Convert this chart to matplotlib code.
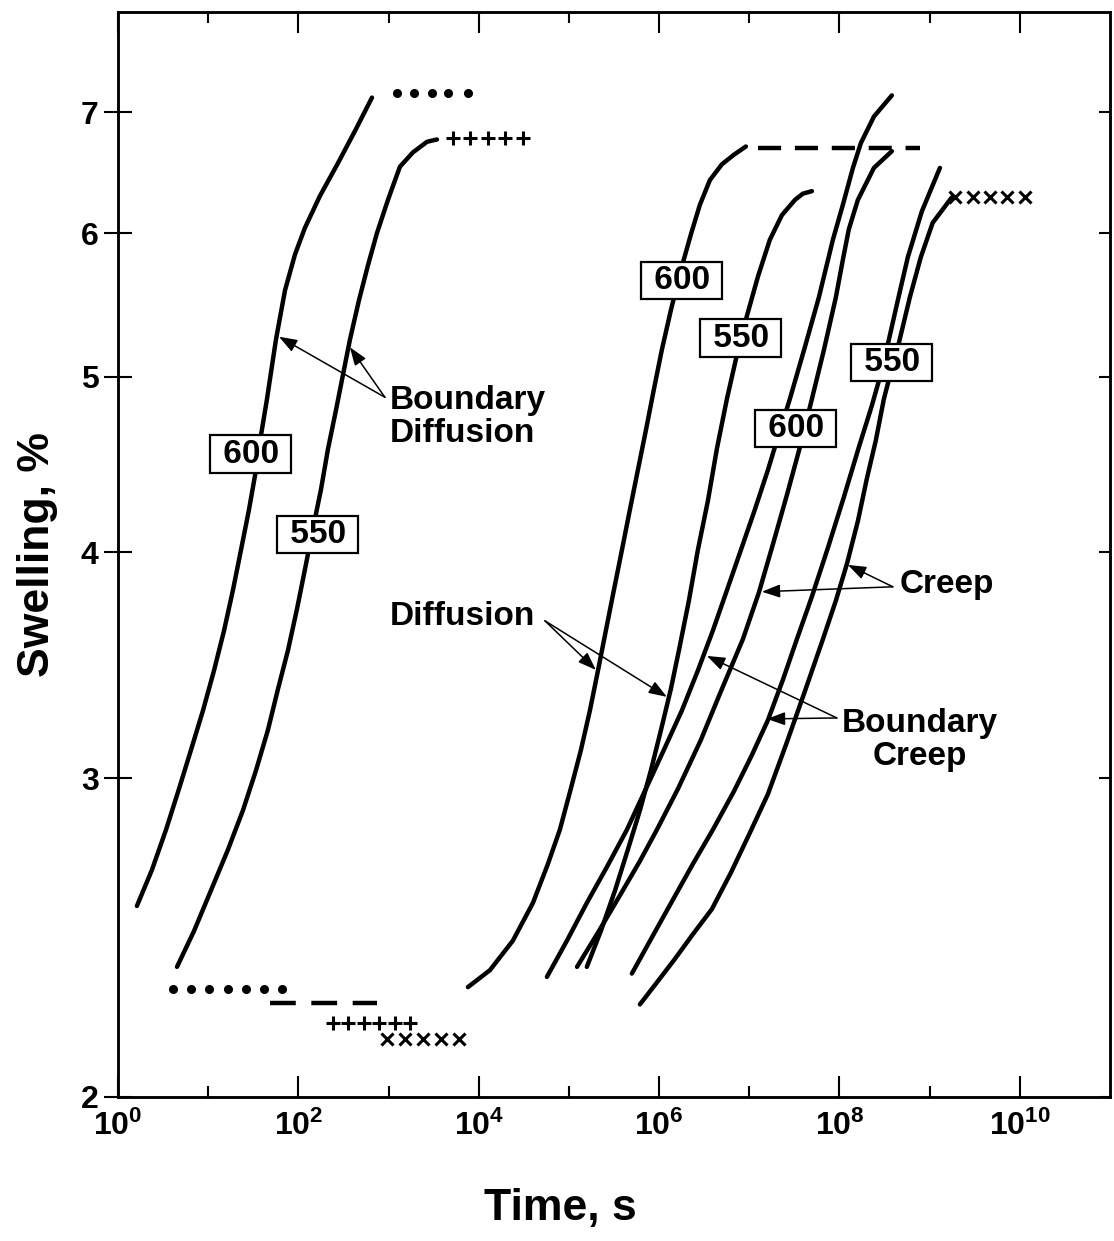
import numpy as np
import matplotlib.pyplot as plt
from matplotlib.ticker import FixedLocator, NullLocator, NullFormatter

plt.rcParams['font.family'] = ['Liberation Sans', 'DejaVu Sans']
plt.rcParams['font.weight'] = 'bold'
plt.rcParams['mathtext.fontset'] = 'custom'
plt.rcParams['mathtext.bf'] = 'Liberation Sans:bold'
plt.rcParams['mathtext.rm'] = 'Liberation Sans:bold'
plt.rcParams['mathtext.default'] = 'bf'

# ---- curves (time in s, swelling in %) ----
# boundary diffusion, 600 and 550
bd600_t = [1.62, 2.38, 3.41, 4.75, 6.45, 8.76, 11.6, 15.0, 18.8, 23.1, 28.3, 33.9,
           38.5, 44.9, 56.4, 71.1, 91.7, 118, 173, 275, 435, 655]
bd600_s = [2.55, 2.67, 2.81, 2.96, 3.11, 3.27, 3.44, 3.62, 3.81, 4.01, 4.22, 4.44,
           4.64, 4.86, 5.24, 5.58, 5.84, 6.04, 6.29, 6.56, 6.85, 7.13]
bd550_t = [4.51, 6.96, 10.7, 16.6, 24.3, 33.9, 46.0, 59.4, 76.7, 96.5, 118, 145,
           178, 213, 261, 312, 373, 470, 591, 743, 985, 1337, 1865, 2667, 3440]
bd550_s = [2.36, 2.47, 2.60, 2.74, 2.88, 3.03, 3.19, 3.36, 3.53, 3.72, 3.91, 4.12,
           4.33, 4.56, 4.79, 5.01, 5.24, 5.51, 5.76, 6.00, 6.26, 6.53, 6.65, 6.74, 6.76]
# diffusion, 600 and 550
dif600_t = [7.59e3, 1.33e4, 2.39e4, 3.99e4, 5.85e4, 7.94e4, 1.05e5, 1.36e5, 1.71e5,
            2.10e5, 2.57e5, 3.15e5, 3.87e5, 4.74e5, 5.82e5, 7.14e5, 8.76e5, 1.07e6,
            1.35e6, 1.75e6, 2.25e6, 2.83e6, 3.66e6, 4.97e6, 6.75e6, 9.17e6]
dif600_s = [2.30, 2.35, 2.44, 2.56, 2.69, 2.81, 2.96, 3.11, 3.27, 3.44, 3.62, 3.81,
            4.01, 4.22, 4.44, 4.67, 4.92, 5.17, 5.44, 5.73, 5.99, 6.22, 6.42, 6.55,
            6.63, 6.70]
dif550_t = [1.58e5, 2.26e5, 3.24e5, 4.51e5, 6.13e5, 8.11e5, 1.05e6, 1.35e6, 1.66e6,
            2.14e6, 2.69e6, 3.48e6, 4.37e6, 5.65e6, 7.10e6, 9.40e6, 1.25e7, 1.69e7,
            2.30e7, 3.21e7, 3.93e7, 4.95e7]
dif550_s = [2.36, 2.47, 2.60, 2.74, 2.88, 3.03, 3.19, 3.36, 3.53, 3.76, 4.01, 4.27,
            4.56, 4.86, 5.11, 5.40, 5.68, 5.95, 6.14, 6.26, 6.31, 6.33]
# boundary creep and creep, 600
bcr600_t = [5.70e4, 9.51e4, 1.58e5, 2.64e5, 4.40e5, 7.14e5, 1.13e6, 1.79e6, 2.69e6,
            3.95e6, 5.65e6, 8.07e6, 1.15e7, 1.61e7, 1.92e7, 2.82e7, 4.13e7, 5.91e7,
            8.45e7, 1.09e8, 1.41e8, 1.73e8, 2.41e8, 3.81e8]
bcr600_s = [2.33, 2.44, 2.56, 2.68, 2.81, 2.96, 3.11, 3.27, 3.44, 3.62, 3.81, 4.01,
            4.22, 4.44, 4.57, 4.86, 5.19, 5.53, 5.95, 6.22, 6.52, 6.73, 6.96, 7.15]
cr600_t = [1.23e5, 2.15e5, 3.77e5, 6.13e5, 9.46e5, 1.62e6, 2.91e6, 4.72e6, 8.49e6,
           1.28e7, 1.83e7, 2.61e7, 3.64e7, 4.95e7, 6.71e7, 9.12e7, 1.09e8, 1.27e8,
           1.60e8, 2.41e8, 3.81e8]
cr600_s = [2.36, 2.47, 2.59, 2.70, 2.81, 2.96, 3.15, 3.34, 3.58, 3.80, 4.04, 4.30,
           4.57, 4.86, 5.17, 5.53, 5.80, 6.03, 6.26, 6.52, 6.66]
# boundary creep and creep, 550
bcr550_t = [4.99e5, 8.32e5, 1.42e6, 2.37e6, 3.95e6, 6.75e6, 1.07e7, 1.61e7, 2.36e7,
            3.37e7, 4.95e7, 7.43e7, 1.12e8, 1.64e8, 2.29e8, 2.95e8, 3.53e8, 4.44e8,
            5.73e8, 8.20e8, 1.30e9]
bcr550_s = [2.34, 2.45, 2.57, 2.69, 2.81, 2.95, 3.09, 3.23, 3.40, 3.58, 3.78, 4.02,
            4.29, 4.57, 4.82, 5.04, 5.24, 5.51, 5.82, 6.17, 6.52]
cr550_t = [6.13e5, 9.22e5, 1.46e6, 2.37e6, 3.85e6, 6.25e6, 1.02e7, 1.61e7, 2.55e7,
           4.13e7, 6.55e7, 9.12e7, 1.21e8, 1.60e8, 2.01e8, 2.53e8, 3.11e8, 3.53e8,
           4.44e8, 6.03e8, 7.98e8, 1.08e9, 1.76e9]
cr550_s = [2.25, 2.31, 2.38, 2.46, 2.54, 2.66, 2.80, 2.94, 3.13, 3.35, 3.58, 3.76,
           3.94, 4.16, 4.39, 4.61, 4.86, 4.98, 5.19, 5.53, 5.82, 6.08, 6.28]

# ---- symbol rows ----
top_dot_t = [1240, 1910, 3030, 4560, 7590]
top_dot_s = 7.17
top_plus_t = [5180, 7980, 12600, 19500, 30900]
top_plus_s = 6.77
top_dash_t = [1.25e7, 7.8e8]
top_dash_s = 6.69
top_x_t = [1.90e9, 3.01e9, 4.65e9, 7.17e9, 1.14e10]
top_x_s = 6.28

bot_dot_t = [4.1, 6.5, 10.3, 16.4, 26.1, 41.5, 66]
bot_dot_s = 2.295
bot_dash_t = [48.4, 743]
bot_dash_s = 2.254
bot_plus_t = [242, 359, 534, 793, 1178, 1749]
bot_plus_s = 2.197
bot_x_t = [960, 1520, 2400, 3810, 6030]
bot_x_s = 2.153

x_major_exp = [0, 2, 4, 6, 8, 10]
x_minor_exp = [1, 3, 5, 7, 9]
y_ticks = [2, 3, 4, 5, 6, 7]

fig = plt.figure(figsize=(11.14, 12.41), dpi=100)
ax = fig.add_axes([118 / 1114, 144 / 1241, 992 / 1114, 1085 / 1241])
ax.set_xscale('log')
ax.set_yscale('log')
ax.set_xlim(1, 1e11)
ax.set_ylim(2, 7.95)

curves = [(bd600_t, bd600_s), (bd550_t, bd550_s), (dif600_t, dif600_s),
          (dif550_t, dif550_s), (bcr600_t, bcr600_s), (cr600_t, cr600_s),
          (bcr550_t, bcr550_s), (cr550_t, cr550_s)]
for t, s in curves:
    ax.plot(t, s, color='black', lw=3.2, solid_capstyle='round',
            solid_joinstyle='round', zorder=2)

# symbol rows at top and bottom
ax.plot(top_dot_t, [top_dot_s] * len(top_dot_t), 'o', color='k', ms=5.5)
ax.plot(top_plus_t, [top_plus_s] * len(top_plus_t), '+', color='k', ms=10, mew=2.2)
ax.plot(top_dash_t, [top_dash_s] * 2, color='k', lw=3.2, ls=(0, (5.2, 3.1)))
ax.plot(top_x_t, [top_x_s] * len(top_x_t), 'x', color='k', ms=8, mew=2.2)
ax.plot(bot_dot_t, [bot_dot_s] * len(bot_dot_t), 'o', color='k', ms=5.5)
ax.plot(bot_dash_t, [bot_dash_s] * 2, color='k', lw=3.2, ls=(0, (5.8, 3.5)))
ax.plot(bot_plus_t, [bot_plus_s] * len(bot_plus_t), '+', color='k', ms=10, mew=2.2)
ax.plot(bot_x_t, [bot_x_s] * len(bot_x_t), 'x', color='k', ms=8, mew=2.2)

# temperature boxes
box = dict(boxstyle='square,pad=0.1', fc='white', ec='black', lw=1.6)
for x, y, lab in [(29.8, 4.53, '600'), (165, 4.09, '550'), (1.79e6, 5.65, '600'),
                  (8.07e6, 5.25, '550'), (3.29e7, 4.68, '600'), (3.81e8, 5.09, '550')]:
    ax.text(x, y, ' ' + lab + ' ', ha='center', va='center', fontsize=24,
            bbox=box, zorder=5)

aprops = dict(arrowstyle='-|>,head_length=0.55,head_width=0.2', lw=1.1,
              color='k', shrinkA=0, shrinkB=0, mutation_scale=20)


def arrows(origin, tips):
    for tip in tips:
        ax.annotate('', xy=tip, xytext=origin, arrowprops=aprops, zorder=6)


arrows((912, 4.87), [(61, 5.26), (373, 5.19)])
ax.text(1037, 4.75, 'Boundary\nDiffusion', fontsize=24, ha='left', va='center',
        linespacing=1.1)

arrows((5.42e4, 3.665), [(1.99e5, 3.443), (1.22e6, 3.327)])
ax.text(1037, 3.684, 'Diffusion', fontsize=24, ha='left', va='center')

arrows((3.91e8, 3.827), [(1.38e7, 3.803), (1.24e8, 3.935)])
ax.text(4.68e8, 3.837, 'Creep', fontsize=24, ha='left', va='center')

arrows((9.35e7, 3.239), [(3.39e6, 3.505), (1.57e7, 3.235)])
ax.text(7.79e8, 3.15, 'Boundary\nCreep', fontsize=24, ha='center', va='center',
        multialignment='center', linespacing=1.1)

# axes and ticks
ax.xaxis.set_major_locator(FixedLocator([10.0 ** e for e in x_major_exp]))
ax.xaxis.set_minor_locator(FixedLocator([10.0 ** e for e in x_minor_exp]))
ax.xaxis.set_minor_formatter(NullFormatter())
ax.set_xticklabels([r'$10^{%d}$' % e for e in x_major_exp])
ax.tick_params(axis='x', which='both', direction='in', top=True, bottom=True, width=1.5)
ax.tick_params(axis='x', which='major', length=15, pad=10, labelsize=23)
ax.tick_params(axis='x', which='minor', length=8)

ax.yaxis.set_major_locator(FixedLocator(y_ticks))
ax.yaxis.set_minor_locator(NullLocator())
ax.set_yticklabels([str(v) for v in y_ticks])
ax.tick_params(axis='y', which='major', direction='inout', length=20, width=1.5,
               right=False, labelsize=23, pad=4)

axr = ax.twinx()
axr.set_yscale('log')
axr.set_ylim(ax.get_ylim())
axr.yaxis.set_major_locator(FixedLocator(y_ticks))
axr.yaxis.set_minor_locator(NullLocator())
axr.tick_params(axis='y', direction='in', length=8, width=1.5, labelright=False)

for a in (ax, axr):
    for sp in a.spines.values():
        sp.set_linewidth(1.8)

ax.set_xlabel('Time, s', fontsize=32, fontweight='bold')
ax.xaxis.set_label_coords(0.4456, -0.084)
ax.set_ylabel('Swelling, %', fontsize=32, fontweight='bold')
ax.yaxis.set_label_coords(-0.06, 0.5)

fig.savefig('out.png', dpi=100)
